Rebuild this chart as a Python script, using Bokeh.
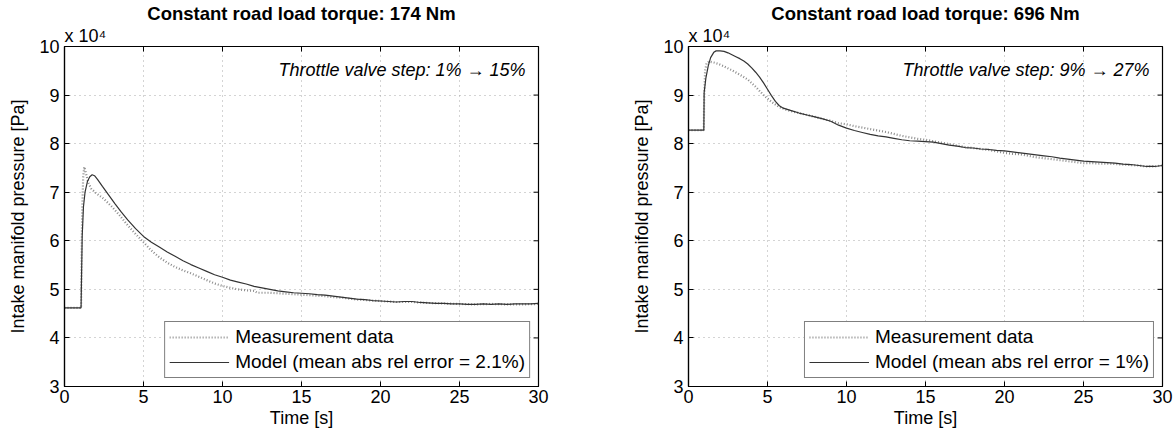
import math
from bokeh.plotting import figure
from bokeh.layouts import row
from bokeh.models import (Range1d, FixedTicker, CustomJSTickFormatter,
                          Label, Legend, LegendItem, Title)
from bokeh.embed import file_html
from bokeh.resources import INLINE

FONT = "Liberation Sans"

# ---------------- data ----------------
x_ticks = [0, 5, 10, 15, 20, 25, 30]
y_ticks = [30000, 40000, 50000, 60000, 70000, 80000, 90000, 100000]
x_min, x_max = 0, 30
y_min, y_max = 30000, 100000

titles = ["Constant road load torque: 174 Nm", "Constant road load torque: 696 Nm"]
steps = ["Throttle valve step: 1% \u2192 15%", "Throttle valve step: 9% \u2192 27%"]
multiplier = "x 10\u2074"
legend_meas = "Measurement data"
legend_model = ["Model (mean abs rel error = 2.1%)", "Model (mean abs rel error = 1%)"]
x_label = "Time [s]"
y_label = "Intake manifold pressure [Pa]"

# Left panel: 174 Nm  (time [s], pressure [Pa])
left_meas_t = [0, 1.05, 1.08, 1.12, 1.18, 1.25, 1.35, 1.5, 1.7, 2.0, 2.5, 3.0, 3.5, 4.0,
               4.5, 5.0, 5.5, 6.0, 6.5, 7.0, 7.5, 8.0, 8.5, 9.0, 9.5, 10.0, 10.5, 11.0,
               11.5, 12.0, 12.2, 12.5, 13.0, 13.5, 14.0, 14.5, 15.0, 15.5, 16.0, 16.5,
               17.0, 17.5, 18.0, 18.5, 19.0, 19.5, 20.0, 21.0, 22.0, 23.0, 24.0, 25.0,
               26.0, 27.0, 28.0, 29.0, 30.0]
left_meas_p = [46200, 46200, 56000, 66000, 73000, 75200, 74000, 72000, 70700, 69800,
               68600, 67000, 65200, 63200, 61400, 59700, 58000, 56600, 55500, 54600,
               53900, 53300, 52600, 51900, 51200, 50700, 50300, 50000, 49800, 49700,
               49300, 49300, 49300, 49200, 49100, 49000, 48900, 48800, 48700, 48600,
               48400, 48300, 48100, 47900, 47800, 47700, 47600, 47400, 47400, 47200,
               47100, 47000, 46900, 47000, 46900, 46900, 47000]
left_model_t = [0, 0.5, 1.05, 1.08, 1.12, 1.2, 1.3, 1.45, 1.6, 1.75, 1.9, 2.1, 2.4, 2.8,
                3.2, 3.6, 4.0, 4.5, 5.0, 5.5, 6.0, 6.5, 7.0, 7.5, 8.0, 8.5, 9.0, 9.5,
                10.0, 10.5, 11.0, 11.5, 12.0, 12.5, 13.0, 13.5, 14.0, 14.5, 15.0, 15.5,
                16.0, 16.5, 17.0, 17.5, 18.0, 18.5, 19.0, 19.5, 20.0, 20.5, 21.0, 21.5,
                22.0, 22.5, 23.0, 23.5, 24.0, 24.5, 25.0, 25.5, 26.0, 26.5, 27.0, 27.5,
                28.0, 28.5, 29.0, 29.5, 30.0]
left_model_p = [46200, 46200, 46200, 53000, 61000, 67000, 70000, 72200, 73200, 73600,
                73400, 72600, 71200, 69400, 67600, 65900, 64300, 62500, 60900, 59700,
                58700, 57700, 56800, 55900, 55100, 54400, 53700, 53000, 52500, 51900,
                51500, 51100, 50600, 50300, 50000, 49700, 49500, 49300, 49200, 49100,
                48900, 48800, 48600, 48400, 48200, 48000, 47900, 47700, 47600, 47500,
                47400, 47500, 47500, 47300, 47200, 47100, 47100, 47000, 47000, 46900,
                46900, 47000, 46900, 47000, 46900, 47000, 47000, 47000, 47100]

# Right panel: 696 Nm
right_meas_t = [0, 0.97, 0.99, 1.05, 1.15, 1.3, 1.6, 1.9, 2.25, 2.75, 3.25, 3.75, 4.25,
                4.75, 5.25, 5.75, 6.25, 7.0, 7.5, 8.0, 8.5, 9.0, 9.5, 10.0, 10.5, 11.0,
                11.5, 12.0, 12.5, 13.0, 13.5, 14.0, 14.5, 15.0, 15.5, 16.0, 16.5, 17.0,
                17.5, 18.0, 18.5, 19.0, 19.5, 20.0, 20.5, 21.0, 21.5, 22.0, 22.5, 23.0,
                23.5, 24.0, 24.5, 25.0, 25.5, 26.0, 26.5, 27.0, 27.5, 28.0, 28.5, 29.0,
                29.5, 30.0]
right_meas_p = [82800, 82800, 89000, 95000, 96600, 96900, 96700, 96400, 95900, 95100,
                94200, 93200, 91700, 90000, 88600, 87500, 86900, 86300, 85900, 85500,
                85100, 84700, 84200, 84000, 83600, 83300, 83000, 82700, 82400, 82000,
                81600, 81300, 81000, 80800, 80500, 80200, 79900, 79600, 79300, 79100,
                78900, 78700, 78400, 78100, 77900, 77800, 77500, 77200, 77000, 76800,
                76600, 76400, 76200, 76000, 76000, 75900, 75900, 75800, 75700, 75600,
                75500, 75300, 75300, 75500]
right_model_t = [0, 0.5, 0.97, 0.99, 1.1, 1.25, 1.4, 1.6, 1.75, 2.0, 2.25, 2.5, 2.75,
                 3.0, 3.25, 3.5, 3.75, 4.0, 4.25, 4.5, 4.75, 5.0, 5.25, 5.5, 5.75, 6.0,
                 6.5, 7.0, 7.5, 8.0, 8.5, 9.0, 9.5, 10.0, 10.5, 11.0, 11.5, 12.0, 12.5,
                 13.0, 13.5, 14.0, 14.5, 15.0, 15.5, 16.0, 16.5, 17.0, 17.5, 18.0, 18.5,
                 19.0, 19.5, 20.0, 20.5, 21.0, 21.5, 22.0, 22.5, 23.0, 23.5, 24.0, 24.5,
                 25.0, 25.5, 26.0, 26.5, 27.0, 27.5, 28.0, 28.5, 29.0, 29.5, 30.0]
right_model_p = [82800, 82800, 82800, 90500, 93500, 96000, 97700, 98800, 99100, 99100,
                 99000, 98700, 98300, 97900, 97500, 97000, 96400, 95600, 94700, 93700,
                 92500, 91200, 89900, 88700, 87800, 87300, 86800, 86300, 85900, 85500,
                 85100, 84600, 83800, 83200, 82700, 82300, 81900, 81600, 81400, 81100,
                 80800, 80600, 80500, 80400, 80300, 80000, 79700, 79500, 79200, 79100,
                 78900, 78800, 78600, 78500, 78300, 78100, 77900, 77700, 77500, 77300,
                 77000, 76800, 76600, 76400, 76300, 76200, 76100, 76000, 75800, 75700,
                 75500, 75300, 75300, 75500]

panels = [
    dict(title=titles[0], step=steps[0], model_label=legend_model[0],
         mt=left_meas_t, mp=left_meas_p, ct=left_model_t, cp=left_model_p,
         width=586, border_left=64, border_right=48),
    dict(title=titles[1], step=steps[1], model_label=legend_model[1],
         mt=right_meas_t, mp=right_meas_p, ct=right_model_t, cp=right_model_p,
         width=587, border_left=102, border_right=11),
]

FS = "18px"


def make_panel(cfg):
    p = figure(width=cfg["width"], height=434, output_backend="svg",
               toolbar_location=None, x_range=Range1d(x_min, x_max),
               y_range=Range1d(y_min, y_max),
               min_border_left=cfg["border_left"], min_border_right=cfg["border_right"],
               min_border_top=45, min_border_bottom=48)
    p.outline_line_color = "black"
    p.outline_line_width = 1.2
    p.background_fill_color = "white"
    p.border_fill_color = "white"

    # titles (main title outermost, multiplier right above the frame)
    p.title.text = cfg["title"]
    p.title.align = "center"
    p.title.vertical_align = "bottom"
    p.title.text_font = FONT
    p.title.text_font_size = "18.5px"
    p.title.text_font_style = "bold"
    p.title.text_color = "black"
    p.title.standoff = 0
    mult = Title(text=multiplier, align="left", offset=0, standoff=1,
                 text_font=FONT, text_font_size="18px", text_font_style="normal",
                 text_color="black")
    p.add_layout(mult, "above")

    p.xaxis.ticker = FixedTicker(ticks=x_ticks)
    p.yaxis.ticker = FixedTicker(ticks=y_ticks)
    p.yaxis.formatter = CustomJSTickFormatter(code="return (tick / 1e4).toFixed(0);")
    for ax in (p.xaxis[0], p.yaxis[0]):
        ax.major_tick_in = 5
        ax.major_tick_out = 0
        ax.minor_tick_line_color = None
        ax.axis_line_color = "black"
        ax.axis_line_width = 1.2
        ax.major_tick_line_color = "black"
        ax.major_label_text_font = FONT
        ax.major_label_text_font_size = FS
        ax.major_label_text_color = "black"
        ax.axis_label_text_font = FONT
        ax.axis_label_text_font_size = FS
        ax.axis_label_text_font_style = "normal"
        ax.axis_label_text_color = "black"
    p.xaxis.axis_label = x_label
    p.yaxis.axis_label = y_label
    p.xaxis.major_label_standoff = 3
    p.xaxis.axis_label_standoff = 2
    p.yaxis.major_label_standoff = 5
    p.yaxis.axis_label_standoff = 8

    for g in (p.xgrid[0], p.ygrid[0]):
        g.grid_line_color = "#a8a8a8"
        g.grid_line_dash = "1 4"
        g.grid_line_width = 1
    p.xgrid.ticker = FixedTicker(ticks=x_ticks)
    p.ygrid.ticker = FixedTicker(ticks=y_ticks)

    # inward tick marks on the top and right edges of the box
    p.scatter(x_ticks, [y_max] * len(x_ticks), marker="dash", size=10,
              angle=math.pi / 2, line_color="black", line_width=1)
    p.scatter([x_max] * len(y_ticks), y_ticks, marker="dash", size=10,
              line_color="black", line_width=1)

    meas = p.line(cfg["mt"], cfg["mp"], line_color="#8a8a8a", line_width=2.2,
                  line_dash="1 2")
    model = p.line(cfg["ct"], cfg["cp"], line_color="#333333", line_width=1.2)

    leg = Legend(items=[LegendItem(label=legend_meas, renderers=[meas]),
                        LegendItem(label=cfg["model_label"], renderers=[model])],
                 location="bottom_right")
    leg.label_text_font = FONT
    leg.label_text_font_size = "19px"
    leg.label_text_color = "black"
    leg.border_line_color = "black"
    leg.border_line_width = 1.2
    leg.background_fill_color = "white"
    leg.background_fill_alpha = 1
    leg.glyph_width = 60
    leg.glyph_height = 20
    leg.label_height = 20
    leg.label_standoff = 6
    leg.padding = 4
    leg.spacing = 3
    leg.margin = 8
    p.add_layout(leg)

    p.add_layout(Label(x=x_max, y=y_max, x_offset=-13, y_offset=-23, text=cfg["step"],
                       text_font=FONT, text_font_size="18px", text_font_style="italic",
                       text_align="right", text_baseline="middle",
                       text_color="black"))
    return p


figs = [make_panel(c) for c in panels]
layout = row(*figs, spacing=0)

with open("out.html", "w") as f:
    f.write(file_html(layout, INLINE))
